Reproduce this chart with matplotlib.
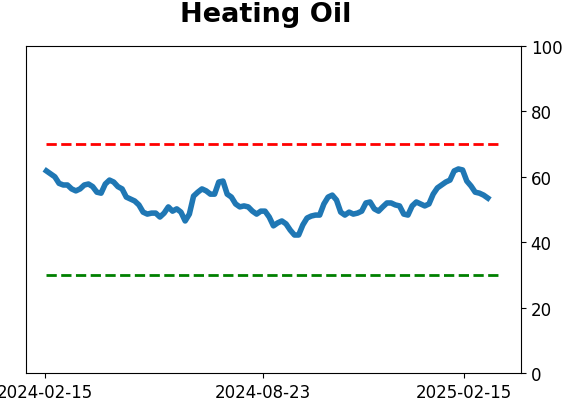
import matplotlib
matplotlib.use("Agg")
import matplotlib.pyplot as plt
import matplotlib.dates as mdates
import pandas as pd

# readings of the indicator, roughly every 4 days
values = [61.8, 60.9, 60.0, 58.0, 57.5, 57.5, 56.3, 55.7, 56.3, 57.5,
          57.8, 57.0, 55.3, 55.0, 57.8, 59.0, 58.4, 57.0, 56.3, 53.8,
          53.2, 52.6, 51.4, 49.2, 48.6, 48.9, 48.9, 47.7, 48.9, 50.8,
          49.5, 50.2, 49.2, 46.5, 48.6, 54.1, 55.3, 56.3, 55.7, 54.7,
          54.7, 58.4, 58.7, 54.7, 53.8, 51.7, 50.8, 51.1, 50.8, 49.5,
          48.6, 49.5, 49.5, 47.7, 45.0, 45.9, 46.5, 45.6, 43.7, 42.2,
          42.2, 45.3, 47.4, 48.0, 48.3, 48.3, 51.7, 53.8, 54.4, 52.9,
          49.2, 48.3, 49.2, 48.6, 48.9, 49.5, 52.0, 52.3, 50.2, 49.5,
          50.8, 52.0, 52.0, 51.4, 51.1, 48.6, 48.3, 51.1, 52.3, 51.7,
          51.1, 51.7, 54.7, 56.6, 57.5, 58.4, 59.0, 61.8, 62.4, 62.1,
          58.7, 57.2, 55.3, 55.0, 54.4, 53.5]
dates = pd.date_range("2024-02-16", "2025-03-08", periods=len(values))

upper = 70
lower = 30
band_start = pd.Timestamp("2024-02-16")
band_end = pd.Timestamp("2025-03-18")
tick_dates = ["2024-02-15", "2024-08-23", "2025-02-15"]

fig = plt.figure(figsize=(5.62, 4.02), dpi=100)
ax = fig.add_axes([0.046, 0.0697, 0.881, 0.8133])

ax.plot(dates, values, color="#1f77b4", linewidth=4)
ax.plot([band_start, band_end], [upper, upper], "--", color="red", linewidth=2)
ax.plot([band_start, band_end], [lower, lower], "--", color="green", linewidth=2)

ax.set_ylim(0, 100)
ax.set_xlim(pd.Timestamp("2024-01-29"), pd.Timestamp("2025-04-06"))
ax.yaxis.tick_right()
ax.set_yticks([0, 20, 40, 60, 80, 100])
ax.set_xticks(pd.to_datetime(tick_dates))
ax.xaxis.set_major_formatter(mdates.DateFormatter("%Y-%m-%d"))
ax.tick_params(labelsize=12)

fig.text(0.473, 0.995, "Heating Oil", fontsize=19.5, fontweight="bold",
         ha="center", va="top")

fig.savefig("out.png", dpi=100)
